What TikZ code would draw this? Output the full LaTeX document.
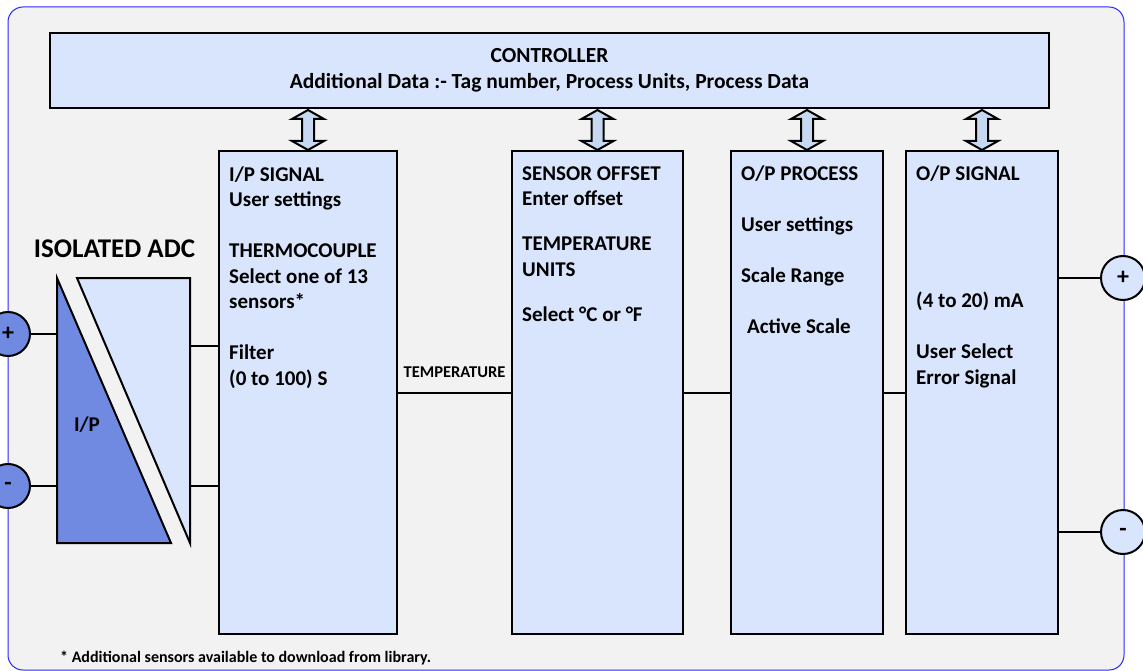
\documentclass[tikz,border=0pt]{standalone}
\usepackage{fontspec}
\setmainfont{Carlito}
\usetikzlibrary{positioning}

\definecolor{boxblue}{RGB}{217,229,252}
\definecolor{adcblue}{RGB}{112,138,225}
\definecolor{arrowblue}{RGB}{198,217,240}
\definecolor{panelgray}{RGB}{242,242,242}
\definecolor{framblue}{RGB}{40,40,255}

\begin{document}
\begin{tikzpicture}[x=1pt,y=-1pt,
  main node/.style={rectangle,draw,line width=2pt,fill=boxblue,inner sep=0pt,anchor=north west},
  box text/.style={anchor=north west,align=left,inner sep=0pt,font=\bfseries\fontsize{21}{25.5}\selectfont},
  pin node/.style={circle,draw,line width=2pt,minimum size=44pt,inner sep=0pt,font=\bfseries\fontsize{24}{24}\selectfont},
  wire/.style={line width=2pt},
  dbl arrow/.style={fill=arrowblue,line width=2pt,line join=miter}]%
  \pgfmathsetmacro{\boxtop}{150}
  \pgfmathsetmacro{\boxh}{483}
  \useasboundingbox (0,0) rectangle (1143,671);
  \draw[framblue,fill=panelgray,line width=1pt,rounded corners=15pt] (8,7) rectangle (1124,670);

  % controller
  \node[main node,align=center,minimum width=999pt,minimum height=75pt,anchor=center,
        font=\bfseries\fontsize{21.5}{26}\selectfont] (ctrl) at (549.5,70.5)
        {CONTROLLER\\Additional Data :- Tag number, Process Units, Process Data};

  % blocks
  \foreach \n/\x/\w in {ips/218/178,sof/511/171,opp/730/152,ops/905/152}
  \node[main node,minimum width=\w pt,minimum height=\boxh pt] (\n) at (\x,\boxtop) {};
  \foreach \n in {ips,sof,opp,ops}
  \filldraw[dbl arrow] (\n.north) -- ++(-16,-9) -- ++(10,0) -- ++(0,-22) -- ++(-10,0) -- ++(16,-9)
    -- ++(16,9) -- ++(-10,0) -- ++(0,22) -- ++(10,0) -- cycle;

  \node[box text] (ipstext) at ([shift={(11,13)}]ips.north west)
    {\strut I/P SIGNAL\\User settings\\[25.5pt]THERMOCOUPLE\\Select one of 13\\sensors*\\[25.5pt]Filter\\(0 to 100) S};
  \node[box text] (softext) at ([shift={(11,12)}]sof.north west)
    {\strut SENSOR OFFSET\\Enter offset\\[19.5pt]TEMPERATURE\\UNITS\\[20pt]Select °C or °F};
  \node[box text] (opptext) at ([shift={(11,12)}]opp.north west)
    {\strut O/P PROCESS\\[25.5pt]User settings\\[25.5pt]Scale Range\\[25.5pt]\hspace{6pt}Active Scale};
  \node[box text] (opstext) at ([shift={(11,12)}]ops.north west)
    {\strut O/P SIGNAL\\[102pt](4 to 20) mA\\[25.5pt]User Select\\Error Signal};

  \draw[wire] (ips) -- node[above=14pt,inner sep=0pt,font=\bfseries\fontsize{16.5}{16.5}\selectfont] (templabel) {TEMPERATURE} (sof);
  \draw[wire] (sof) -- (opp);
  \draw[wire] (opp) -- (ops);

  % isolated adc
  \node[font=\bfseries\fontsize{27}{27}\selectfont] (adclabel) at (114.5,249) {ISOLATED ADC};
  \filldraw[fill=adcblue,line width=2pt] (57,278) -- (57,543) -- (171,543) -- cycle;
  \filldraw[fill=boxblue,line width=2pt] (77,278) -- (190,278) -- (190,543) -- cycle;
  \node[font=\bfseries\fontsize{21}{21}\selectfont] (iplabel) at (87,425) {I/P};
  \coordinate (adcplus) at (57,334);
  \coordinate (adcminus) at (57,486);
  \coordinate (adcout1) at (190,346);
  \coordinate (adcout2) at (190,486);
  \draw[wire] (adcout1) -- (adcout1 -| ips.west);
  \draw[wire] (adcout2) -- (adcout2 -| ips.west);

  % terminals
  \node[pin node,fill=adcblue] (inplus) at (8,334) {+};
  \node[pin node,fill=adcblue] (inminus) at (8,486) {-};
  \node[pin node,fill=boxblue] (outplus) at (1123,278) {+};
  \node[pin node,fill=boxblue] (outminus) at (1123,532) {-};
  \draw[wire] (inplus) -- (adcplus);
  \draw[wire] (inminus) -- (adcminus);
  \draw[wire] (outplus) -- (outplus -| ops.east);
  \draw[wire] (outminus) -- (outminus -| ops.east);

  \node[anchor=base west,inner sep=0pt,font=\bfseries\fontsize{16}{16}\selectfont] (note) at (60,662)
    {* Additional sensors available to download from library.};
\end{tikzpicture}
\end{document}
